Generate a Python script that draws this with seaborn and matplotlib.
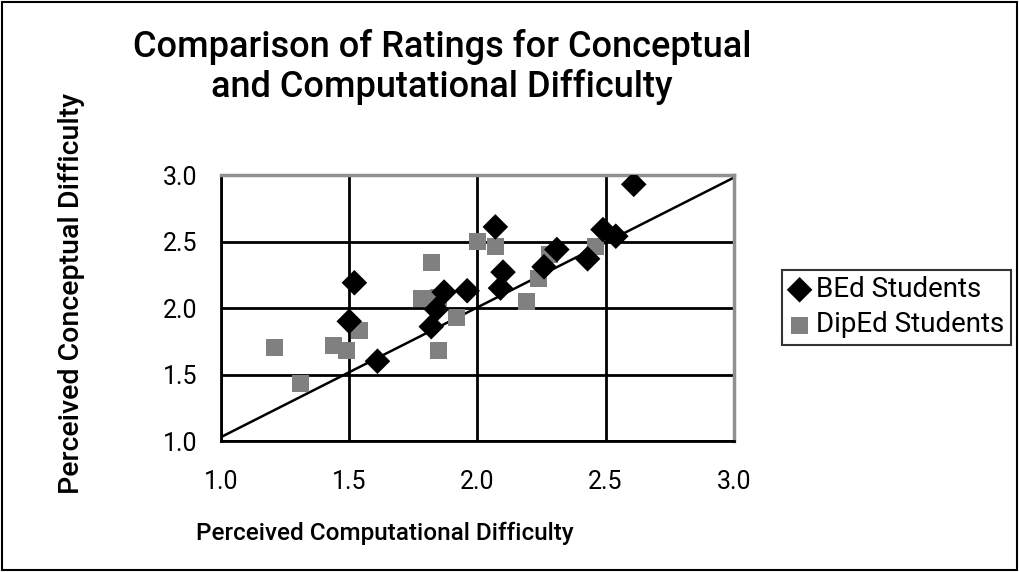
import pandas as pd
import seaborn as sns
import matplotlib.pyplot as plt

# BEd students (diamonds)
bed_comp = [1.52, 1.50, 1.61, 1.82, 1.84, 1.87, 1.96, 2.07, 2.10, 2.09, 2.31, 2.26, 2.43, 2.49, 2.54, 2.61]
bed_conc = [2.19, 1.90, 1.60, 1.86, 1.99, 2.12, 2.13, 2.61, 2.27, 2.15, 2.44, 2.31, 2.37, 2.59, 2.54, 2.93]

# DipEd students (grey squares)
dip_comp = [1.21, 1.31, 1.44, 1.49, 1.54, 1.82, 1.78, 1.85, 1.85, 1.92, 2.00, 2.07, 2.19, 2.24, 2.28, 2.46]
dip_conc = [1.70, 1.43, 1.72, 1.68, 1.83, 2.34, 2.07, 2.08, 1.68, 1.93, 2.50, 2.46, 2.05, 2.22, 2.40, 2.46]

# reference line
line_x = [1.0, 3.0]
line_y = [1.03, 2.98]

ticks = [1.0, 1.5, 2.0, 2.5, 3.0]
tick_labels = ["1.0", "1.5", "2.0", "2.5", "3.0"]

df_bed = pd.DataFrame({"comp": bed_comp, "conc": bed_conc, "group": "BEd Students"})
df_dip = pd.DataFrame({"comp": dip_comp, "conc": dip_conc, "group": "DipEd Students"})
df_line = pd.DataFrame({"x": line_x, "y": line_y})

sns.set_style("white")
plt.rcParams["font.family"] = ["Roboto", "DejaVu Sans"]
plt.rcParams["text.color"] = "black"
plt.rcParams["axes.labelcolor"] = "black"
plt.rcParams["xtick.color"] = "black"
plt.rcParams["ytick.color"] = "black"

fig = plt.figure(figsize=(10.19, 5.72), dpi=100)
ax = fig.add_axes([0.217, 0.229, 0.503, 0.465])

sns.lineplot(x="x", y="y", data=df_line, color="black", linewidth=1.8, ax=ax, zorder=2)
sns.scatterplot(x="comp", y="conc", data=df_dip, marker="s", s=150, color="#808080",
                edgecolor="none", label="DipEd Students", ax=ax, zorder=3)
sns.scatterplot(x="comp", y="conc", data=df_bed, marker="D", s=170, color="black",
                edgecolor="none", label="BEd Students", ax=ax, zorder=4)

ax.set_xlim(1.0, 3.0)
ax.set_ylim(1.0, 3.0)
ax.set_xticks(ticks)
ax.set_xticklabels(tick_labels, fontsize=18)
ax.set_yticks(ticks)
ax.set_yticklabels(tick_labels, fontsize=18)
ax.grid(True, color="black", linewidth=2)
ax.set_axisbelow(True)
ax.tick_params(axis="both", direction="out", length=7, width=2, color="black")
ax.tick_params(axis="x", pad=14)
ax.tick_params(axis="y", pad=10)

for side in ["left", "bottom"]:
    ax.spines[side].set_color("black")
    ax.spines[side].set_linewidth(2)
for side in ["top", "right"]:
    ax.spines[side].set_color("#909090")
    ax.spines[side].set_linewidth(2.5)

ax.set_xlabel("Perceived Computational Difficulty", fontsize=17.5, fontweight="medium")
ax.xaxis.set_label_coords(0.32, -0.305)
ax.set_ylabel("Perceived Conceptual Difficulty", fontsize=20.5, fontweight="medium")
ax.yaxis.set_label_coords(-0.265, 0.555)

fig.text(0.434, 0.883, "Comparison of Ratings for Conceptual\nand Computational Difficulty",
         ha="center", va="center", fontsize=26, fontweight="medium", linespacing=1.15)

handles, labels = ax.get_legend_handles_labels()
order = [labels.index("BEd Students"), labels.index("DipEd Students")]
leg = ax.legend([handles[i] for i in order], [labels[i] for i in order],
                loc="upper left", bbox_to_anchor=(1.095, 0.643), fontsize=20,
                frameon=True, fancybox=False, edgecolor="black", handletextpad=0.2,
                borderpad=0.22, labelspacing=0.3, handlelength=0.8, borderaxespad=0)
leg.get_frame().set_linewidth(1.5)

fig.patches.append(plt.Rectangle((0.002, 0.003), 0.996, 0.994, transform=fig.transFigure,
                                 fill=False, edgecolor="black", linewidth=1.5))

fig.savefig("out.png", dpi=100)
